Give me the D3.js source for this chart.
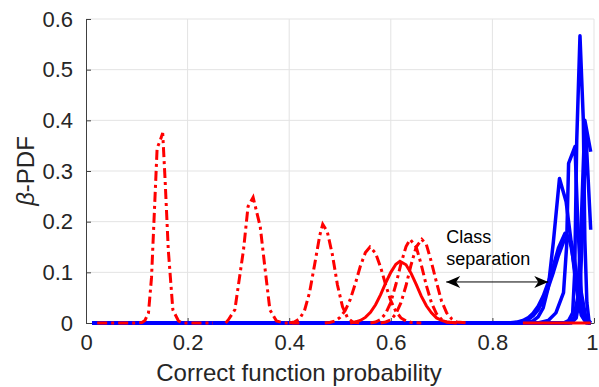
<!DOCTYPE html>
<html>
<head>
<meta charset="utf-8">
<script src="https://cdn.jsdelivr.net/npm/d3@7"></script>
<style>
  body { margin: 0; background: #fff; }
  text { font-family: "Liberation Sans", Arial, sans-serif; fill: #262626; }
</style>
</head>
<body>
<div id="chart"></div>
<script>
const xTicks = [0, 0.2, 0.4, 0.6, 0.8, 1];
const yTicks = [0, 0.1, 0.2, 0.3, 0.4, 0.5, 0.6];

// red (incorrect class) beta pdfs, [x, pdf]
const red1 = [[0.022,0],[0.10,0],[0.11,0.001],[0.116,0.005],[0.123,0.02],[0.129,0.09],[0.140,0.345],[0.146,0.36],[0.151,0.375],[0.156,0.276],[0.162,0.144],[0.171,0.026],[0.182,0.004],[0.19,0],[0.25,0]];
const red2 = [[0.275,0],[0.280,0.006],[0.293,0.026],[0.310,0.144],[0.319,0.23],[0.329,0.248],[0.343,0.19],[0.352,0.111],[0.362,0.026],[0.375,0.004],[0.39,0],[0.42,0]];
const red3 = [[0.40,0],[0.41,0.002],[0.42,0.008],[0.43,0.024],[0.44,0.06],[0.45,0.115],[0.46,0.172],[0.466,0.195],[0.475,0.18],[0.485,0.135],[0.495,0.075],[0.505,0.032],[0.515,0.01],[0.525,0.002],[0.54,0]];
const red4 = [[0.47,0],[0.48,0.001],[0.49,0.004],[0.50,0.011],[0.51,0.024],[0.52,0.046],[0.53,0.077],[0.54,0.112],[0.55,0.139],[0.559,0.15],[0.57,0.138],[0.58,0.11],[0.59,0.075],[0.60,0.044],[0.61,0.023],[0.62,0.01],[0.63,0.004],[0.64,0.001],[0.66,0]];
const red5 = [[0.52,0],[0.53,0.002],[0.54,0.005],[0.55,0.011],[0.56,0.021],[0.57,0.036],[0.58,0.056],[0.59,0.079],[0.60,0.1],[0.61,0.116],[0.618,0.122],[0.63,0.115],[0.64,0.098],[0.65,0.076],[0.66,0.053],[0.67,0.034],[0.68,0.02],[0.69,0.01],[0.70,0.005],[0.71,0.002],[0.73,0]];
const red6 = [[0.56,0],[0.57,0.002],[0.58,0.007],[0.59,0.019],[0.60,0.041],[0.61,0.076],[0.62,0.117],[0.63,0.151],[0.638,0.165],[0.65,0.15],[0.66,0.115],[0.67,0.074],[0.68,0.04],[0.69,0.018],[0.70,0.007],[0.71,0.002],[0.73,0]];
const red7 = [[0.58,0],[0.59,0.002],[0.60,0.006],[0.61,0.018],[0.62,0.04],[0.63,0.074],[0.64,0.115],[0.65,0.15],[0.661,0.165],[0.67,0.155],[0.68,0.12],[0.69,0.08],[0.70,0.043],[0.71,0.02],[0.72,0.008],[0.73,0.002],[0.75,0]];
const redTail = [[0.86,0],[0.9935,0]];
const redDashed = [true, true, true, true, false, true, true, false];

// blue (correct class) beta pdfs
const blue1 = [[0.012,0],[0.83,0],[0.85,0.002],[0.86,0.005],[0.87,0.01],[0.88,0.019],[0.89,0.033],[0.90,0.053],[0.91,0.08],[0.92,0.112],[0.93,0.148],[0.943,0.177],[0.95,0.17],[0.955,0.15],[0.96,0.12],[0.965,0.085],[0.97,0.05],[0.975,0.024],[0.98,0.008],[0.99,0],[0.9935,0]];
const blue2 = [[0.012,0],[0.84,0],[0.86,0.003],[0.87,0.007],[0.88,0.014],[0.89,0.026],[0.90,0.045],[0.91,0.07],[0.92,0.1],[0.93,0.133],[0.94,0.16],[0.948,0.17],[0.955,0.16],[0.96,0.135],[0.965,0.1],[0.97,0.06],[0.975,0.03],[0.98,0.01],[0.99,0],[0.9935,0]];
const blue3 = [[0.012,0],[0.86,0],[0.88,0.004],[0.89,0.012],[0.90,0.03],[0.91,0.07],[0.92,0.16],[0.932,0.285],[0.945,0.24],[0.955,0.16],[0.965,0.07],[0.975,0.015],[0.985,0],[0.9935,0]];
const blue4 = [[0.012,0],[0.89,0],[0.91,0.005],[0.925,0.02],[0.94,0.06],[0.946,0.15],[0.95,0.315],[0.9626,0.348],[0.968,0.2],[0.975,0.06],[0.985,0.005],[0.9935,0]];
const blue5 = [[0.012,0],[0.94,0],[0.95,0.005],[0.958,0.02],[0.962,0.1],[0.966,0.36],[0.9724,0.567],[0.979,0.40],[0.982,0.164],[0.986,0.04],[0.99,0.005],[0.9935,0]];
const blue6 = [[0.012,0],[0.95,0],[0.96,0.01],[0.968,0.05],[0.975,0.2],[0.982,0.40],[0.9935,0.338]];
const blue7 = [[0.012,0],[0.955,0],[0.965,0.01],[0.972,0.05],[0.978,0.2],[0.984,0.374],[0.9935,0.184]];

const redSeries = [red1, red2, red3, red4, red5, red6, red7, redTail];
const blueSeries = [blue1, blue2, blue3, blue4, blue5, blue6, blue7];

const width = 599, height = 387;
const margin = {top: 19, right: 5, bottom: 64, left: 86};

const svg = d3.select('#chart').append('svg')
  .attr('width', width)
  .attr('height', height);

const x = d3.scaleLinear().domain([0, 1]).range([margin.left, width - margin.right]);
const y = d3.scaleLinear().domain([0, 0.6]).range([height - margin.bottom, margin.top]);

// grid
svg.append('g').selectAll('line').data(xTicks.slice(1)).enter().append('line')
  .attr('x1', d => x(d)).attr('x2', d => x(d))
  .attr('y1', y(0)).attr('y2', y(0.6))
  .style('stroke', '#e3e3e3').style('stroke-width', 1);
svg.append('g').selectAll('line').data(yTicks.slice(1)).enter().append('line')
  .attr('x1', x(0)).attr('x2', x(1))
  .attr('y1', d => y(d)).attr('y2', d => y(d))
  .style('stroke', '#e3e3e3').style('stroke-width', 1);

// axes (ticks inward)
const xAxis = svg.append('g')
  .attr('transform', `translate(0,${y(0)})`)
  .call(d3.axisBottom(x).tickValues(xTicks).tickSize(-5).tickPadding(11).tickSizeOuter(0)
    .tickFormat(d3.format('')));
const yAxis = svg.append('g')
  .attr('transform', `translate(${x(0)},0)`)
  .call(d3.axisLeft(y).tickValues(yTicks).tickSize(-5).tickPadding(13).tickSizeOuter(0)
    .tickFormat(d3.format('')));
[xAxis, yAxis].forEach(g => {
  g.select('.domain').style('stroke', '#404040').style('stroke-width', 1);
  g.selectAll('.tick line').style('stroke', '#404040');
  g.selectAll('.tick text').style('font-size', '22px').style('fill', '#262626')
    .style('font-family', '"Liberation Sans", Arial, sans-serif');
});
// last x label sits at the right edge: keep it inside the page
xAxis.selectAll('.tick text').filter(d => d === 1)
  .attr('text-anchor', 'end').attr('x', width - x(1) - 1);

const line = d3.line().x(d => x(d[0])).y(d => y(d[1]));

svg.append('g').selectAll('path').data(blueSeries).enter().append('path')
  .attr('d', line)
  .style('fill', 'none')
  .style('stroke', '#0000ff')
  .style('stroke-width', 3.5)
  .style('stroke-linejoin', 'round');

svg.append('g').selectAll('path').data(redSeries).enter().append('path')
  .attr('d', line)
  .style('fill', 'none')
  .style('stroke', '#ff0000')
  .style('stroke-width', 3)
  .style('stroke-dasharray', (d, i) => redDashed[i] ? '10,4,3,4' : null);

// class separation annotation
const arrowX = [0.709, 0.910], arrowY = 0.081;
svg.append('line')
  .attr('x1', x(arrowX[0])).attr('x2', x(arrowX[1]))
  .attr('y1', y(arrowY)).attr('y2', y(arrowY))
  .style('stroke', '#000').style('stroke-width', 1);
const head = 'M0,0 L-14,-6 L-10,0 L-14,6 Z';
svg.append('path').attr('d', head)
  .attr('transform', `translate(${x(arrowX[1])},${y(arrowY)})`).style('fill', '#000');
svg.append('path').attr('d', head)
  .attr('transform', `translate(${x(arrowX[0])},${y(arrowY)}) rotate(180)`).style('fill', '#000');

const note = svg.append('text')
  .attr('x', x(0.709)).attr('y', y(0.158))
  .style('font-size', '18px').style('fill', '#000');
note.append('tspan').text('Class');
note.append('tspan').attr('x', x(0.709)).attr('dy', 22).text('separation');

// axis titles
svg.append('text')
  .attr('x', 299).attr('y', 381)
  .attr('text-anchor', 'middle')
  .style('font-size', '24px')
  .text('Correct function probability');

const yl = svg.append('text')
  .attr('transform', `translate(34,${(y(0) + y(0.6)) / 2}) rotate(-90)`)
  .attr('text-anchor', 'middle')
  .style('font-size', '24px');
yl.append('tspan').style('font-style', 'italic').text('β');
yl.append('tspan').text('-PDF');
</script>
</body>
</html>
